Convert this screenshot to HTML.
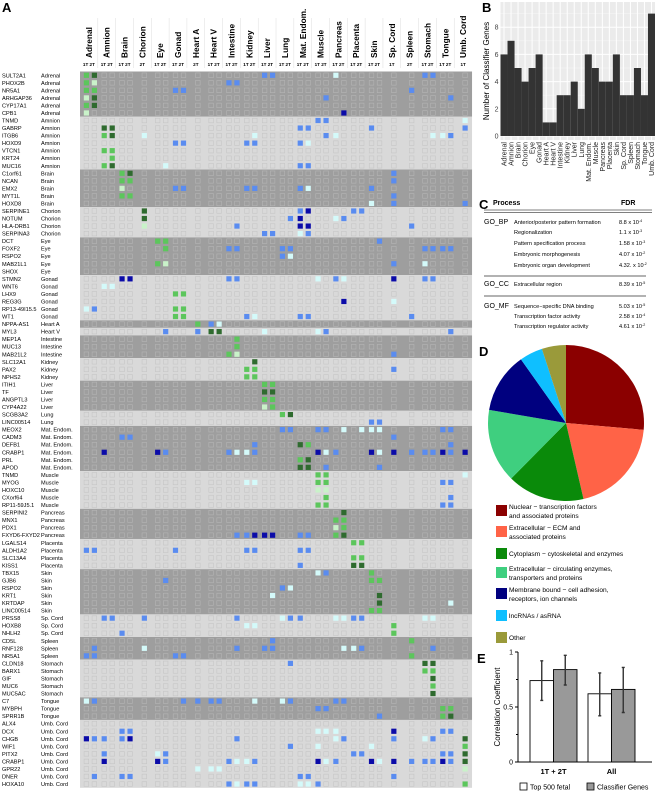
<!DOCTYPE html>
<html><head><meta charset="utf-8">
<style>
body{margin:0;background:#fff;width:655px;height:793px;overflow:hidden;font-family:"Liberation Sans",Arial,sans-serif}
svg{position:absolute;left:0;top:0}
</style></head>
<body>
<svg id="fig" width="655" height="793" viewBox="0 0 655 793" xmlns="http://www.w3.org/2000/svg" font-family="Liberation Sans, Arial, sans-serif">
<text x="2" y="12" font-size="13" font-weight="bold">A</text>
<text x="482" y="12" font-size="13" font-weight="bold">B</text>
<text x="479" y="209" font-size="13" font-weight="bold">C</text>
<text x="479" y="356" font-size="13" font-weight="bold">D</text>
<text x="477" y="663" font-size="13" font-weight="bold">E</text>
<g id="heat"></g>
<g id="barB"></g>
<g id="tableC"></g>
<g id="pieD"></g>
<g id="barE"></g>
</svg>
<script>
const NS="http://www.w3.org/2000/svg";
function mk(p,t,a,txt){const e=document.createElementNS(NS,t);for(const k in a)e.setAttribute(k,a[k]);if(txt!==undefined)e.textContent=txt;p.appendChild(e);return e;}

// ---------- Panel A data ----------
const tissues=["Adrenal","Amnion","Brain","Chorion","Eye","Gonad","Heart A","Heart V","Intestine","Kidney","Liver","Lung","Mat. Endom.","Muscle","Pancreas","Placenta","Skin","Sp. Cord","Spleen","Stomach","Tongue","Umb. Cord"];
const tissueCols=[["1T","2T"],["1T","2T"],["1T","2T"],["2T"],["1T","2T"],["1T","2T"],["2T"],["1T","2T"],["1T","2T"],["1T","2T"],["1T","2T"],["1T","2T"],["1T","2T"],["1T","2T"],["1T","2T"],["1T","2T"],["1T","2T"],["1T"],["2T"],["1T","2T"],["1T","2T"],["1T"]];
const genes=["SULT2A1","PHOX2B","NR5A1","ARHGAP36","CYP17A1","CPB1","TNMD","GABRP","ITGB6","HOXD9","VTCN1","KRT24","MUC16","C1orf61","NCAN","EMX2","MYT1L","HOXD8","SERPINE1","NOTUM","HLA-DRB1","SERPINA3","DCT","FOXF2","RSPO2","MAB21L1","SHOX","STMN2","WNT6","LHX9","REG3G","RP13-49I15.5","WT1","NPPA-AS1","MYL3","MEP1A","MUC13","MAB21L2","SLC12A1","PAX2","NPHS2","ITIH1","TF","ANGPTL3","CYP4A22","SCGB3A2","LINC00514","MEOX2","CADM3","DEFB1","CRABP1","PRL","APOD","TNMD","MYOG","HOXC10","CXorf64","RP11-59J5.1","SERPINI2","MNX1","PDX1","FXYD6-FXYD2","LGALS14","ALDH1A2","SLC13A4","KISS1","TBX15","GJB6","RSPO2","KRT1","KRTDAP","LINC00514","PRSS8","HOXB8","NHLH2","CD5L","RNF128","NR5A1","CLDN18","BARX1","GIF","MUC6","MUC5AC","C7","MYBPH","SPRR1B","ALX4","DCX","CHGB","WIF1","PITX2","CRABP1","GPR22","DNER","HOXA10"];
const geneTissue=[0,0,0,0,0,0,1,1,1,1,1,1,1,2,2,2,2,2,3,3,3,3,4,4,4,4,4,5,5,5,5,5,5,6,7,8,8,8,9,9,9,10,10,10,10,11,11,12,12,12,12,12,12,13,13,13,13,13,14,14,14,14,15,15,15,15,16,16,16,16,16,16,17,17,17,18,18,18,19,19,19,19,19,20,20,20,21,21,21,21,21,21,21,21,21];
// highlighted cells: "column-index + code" (G dark green, g green, l light green, B navy, b blue, c pale cyan)
const cells=[
"0g 1G 18b 19b 26c 34b 35b","0g 1l 14b 15b","0g 1g 9b 10b 33b","0l 1G 25b 37b","0g 1G","0l 27B",
"24b 25b 38c","2G 3G 22b 23b 30b 38b","2g 3G 6c 17c 25b 26c 35c 36c 37b","9b 10b 16b 17b 22b 23c","2g 3g","3g","2g 3G 8c 22b 23b",
"4g 5G 32b","4g 5g 32b","4l 9b 10b 16b 17b 22b 23c 30b","4g 5g 32b","30c 32b 38b",
"6G 22b 23B 28b 29b","6G 21b 22B 26c 27b","6l 15b 22B 23B 33b","18b 19b 22c 23b",
"7g 8g 31b","8g 14b 15b 20b 21b 34b 35b 36b 37b","20b 21c","7g 8l 32b 34c","",
"4B 5B 14b 15b 24c 26b 27c 32B 34b 35b","2c 3c","9g 10g","27B 32c","0c 1b 9g 10g","9g 10g 16b 17c 22b 23b 33b",
"11g 12b 13c","8b 11b 12G 13G 18c 24c 25b 37b",
"15g","15g","14g 15l 32b","17G","16g 17g 32b","16g 17g",
"18g 19g","18G 19G","18g 19g","18l 19g","20g 21G","30b 31b",
"20b 21b 24b 25b 27c 29c 30c 31c 36b 37b","4b 5b 32b","17b 22G 23g 37b","2B 7B 8b 14b 15c 16c 17b 24B 25c 26b 30B 31c 32B 33b 34b 35b 36B 37b 38B","22g 23G","22G 23G 25b 31b",
"24g 25g 38c","16c 17c 24g 25g 36b 37b","24l 25l","25g 37b","24g 25g 36b 37b",
"27G","26g 27g","26l 27g","15b 16b 17B 18B 19B 22b 23b 26g 27G",
"28g 29g","0b 1b 9b 16b 17b 22b 23b","28g 29g","22b 28G 29G",
"24c 25b 30g","8b 30g 31g","20b 21c","19c 31G","31G 37c","30g 31g",
"2b 3b 6b 15b 20c 21b 22b 26c 27c 28b 29b 34c 35c","16c 17c 32g","4b 32g",
"19b 33g","1b 6c 15b 18b 19b 27c 28c 29b 35b","0b 1b 9b 10b 33g",
"21b 34G 35G","34g 35g","35G","35g","35G",
"0c 1b 10b 11b 12b 13b 17c 20c 21b 26b 27b","24b 25b 36g 37g","31b 36g 37G",
"","4b 5b 24c 25c 26c 32B 36b 37b","0B 1b 2b 4b 5B 15b 26c 27b 32b 34c 35b 38G","21b 24c 30c 38g","2b 7c 8b 28b 29b 36b 37b 38G",
"2B 7B 8b 14b 15c 16c 17b 24B 25c 26b 30B 31c 32B 33b 34b 35b 36B 37b 38G","11c 12c 13c 38l","1b 4b 5b 22b 23b 32b","14b 15c 16b 17b 22c 23c 24b 38g"];
const colorMap={G:"#2f6b2f",g:"#5cc65c",l:"#c9f2c9",B:"#0b0ba8",b:"#5a8cf0",c:"#d4fafa"};

(function(){
 const g=document.getElementById('heat');
 const x0=80,gw=17.82,y0=71.5,rh=7.54,cs=5.2;
 // column positions
 const colX=[];const colDark=[];
 tissues.forEach((t,i)=>{const gx=x0+i*gw;
   if(tissueCols[i].length===2){colX.push(gx+3.8,gx+11.8);} else colX.push(gx+8.3);
 });
 // bands
 let start=0;
 for(let r=0;r<=genes.length;r++){
   if(r===genes.length||geneTissue[r]!==geneTissue[start]){
     const b=mk(g,'rect',{x:x0,y:y0+start*rh,width:tissues.length*gw,height:(r-start)*rh,fill:geneTissue[start]%2===0?'#9e9e9e':'#d9d9d9'});
     
     
     start=r;
   }
 }
 // header
 tissues.forEach((t,i)=>{const cx=x0+i*gw+gw/2;
   const tx=mk(g,'text',{x:0,y:0,transform:`translate(${cx+3},58) rotate(-90)`,'font-size':8.3,'font-weight':'bold'},t);
   
   
   const sub=mk(g,'text',{x:cx,y:66,'font-size':4.6,'font-weight':'bold','text-anchor':'middle'},tissueCols[i].join(' '));
   
   
   if(i>0){const ln=mk(g,'line',{x1:x0+i*gw,x2:x0+i*gw,y1:18,y2:68,stroke:'#ddd','stroke-width':0.5});
     
     }
 });
 genes.forEach((gn,r)=>{const cy=y0+r*rh+rh/2;
   const a=mk(g,'text',{x:2,y:cy+2,'font-size':5.6},gn);
   
   
   const b=mk(g,'text',{x:41,y:cy+2,'font-size':5.6},tissues[geneTissue[r]]);
   
   
   const dark=geneTissue[r]%2===0;
   const hl={};cells[r].split(' ').filter(s=>s).forEach(s=>{hl[parseInt(s)]=s.slice(-1);});
   colX.forEach((cx,c)=>{
     let el;
     if(hl[c]) el=mk(g,'rect',{x:cx,y:cy-cs/2,width:cs,height:cs,fill:colorMap[hl[c]]});
     else el=mk(g,'rect',{x:cx+0.3,y:cy-cs/2+0.3,width:cs-0.6,height:cs-0.6,fill:'none',stroke:dark?'#b5b5b5':'#c6c6c6','stroke-width':0.6});
     
     
   });
 });
})();

// ---------- Panel B ----------
const bCats=tissues;
const bValues=[6,7,5,4,5,6,1,1,3,3,4,2,6,5,4,4,6,3,3,5,3,9];
const bTicks=[0,2,4,6,8];
(function(){
 const g=document.getElementById('barB');
 const L=500.5,R=655,T=2,B=140,y0=136,k=13.6;
 const ys=v=>y0-v*k;
 const bw=(R-L)/bCats.length;
 mk(g,'rect',{x:L,y:T,width:R-L,height:B-T,fill:'#ebebeb'});
 for(let v=1;v<=9;v+=2) mk(g,'line',{x1:L,x2:R,y1:ys(v),y2:ys(v),stroke:'#f7f7f7','stroke-width':0.5});
 bTicks.forEach(v=>{mk(g,'line',{x1:L,x2:R,y1:ys(v),y2:ys(v),stroke:'#fff','stroke-width':1});
   const t=mk(g,'text',{x:L-2,y:ys(v)+2.5,'font-size':7,'text-anchor':'end',fill:'#444'},v);
   
   });
 bCats.forEach((c,i)=>{const cx=L+bw*(i+0.5);
   mk(g,'line',{x1:cx,x2:cx,y1:T,y2:B,stroke:'#fff','stroke-width':1});
   const r=mk(g,'rect',{x:L+bw*i,y:ys(bValues[i]),width:bw,height:bValues[i]*k,fill:'#333'});
   
   
   const t=mk(g,'text',{x:0,y:0,transform:`translate(${cx+2.5},${B+2}) rotate(-90)`,'font-size':7,'text-anchor':'end',fill:'#222'},c);
   
   
 });
 const at=mk(g,'text',{x:0,y:0,transform:`translate(489,${(T+B)/2}) rotate(-90)`,'font-size':8,'text-anchor':'middle'},'Number of Classifier Genes');
 
 
})();

// ---------- Panel C ----------
(function(){
 const g=document.getElementById('tableC');
 const t=(x,y,s,fs,w,name)=>{const e=mk(g,'text',{x,y,'font-size':fs,'font-weight':w||'normal'},s);return e;};
 t(493,205,'Process',7,'bold','c-header-process');
 t(621,205,'FDR',7,'bold','c-header-fdr');
 mk(g,'line',{x1:484,x2:652,y1:210,y2:210,stroke:'#555','stroke-width':0.8});
 mk(g,'line',{x1:484,x2:652,y1:212.5,y2:212.5,stroke:'#555','stroke-width':0.8});
 const rows=[["GO_BP","Anterior/posterior pattern formation","8.8 x 10","-4",224],["","Regionalization","1.1 x 10","-3",234],["","Pattern specification process","1.58 x 10","-3",245],["","Embryonic morphogenesis","4.07 x 10","-2",256],["","Embryonic organ development","4.32. x 10","-2",267],["GO_CC","Extracellular region","8.39 x 10","-5",286],["GO_MF","Sequence\u2212specific DNA binding","5.03 x 10","-5",308],["","Transcription factor activity","2.58 x 10","-4",318],["","Transcription regulator activity","4.61 x 10","-2",328]];
 rows.forEach(r=>{if(r[0])t(484,r[4],r[0],7,'normal','c-category');
   t(514,r[4],r[1],5.6,'normal','c-process');
   const f=t(619,r[4],r[2],5.6,'normal','c-fdr');
   const s=mk(f,'tspan',{'font-size':3.6,dy:-2.2},r[3]);});
 mk(g,'line',{x1:484,x2:646,y1:276,y2:276,stroke:'#333','stroke-width':0.8});
 mk(g,'line',{x1:484,x2:646,y1:296,y2:296,stroke:'#333','stroke-width':0.8});
})();

// ---------- Panel D ----------
const pieLabels=["Nuclear \u2212 transcription factors|and associated proteins","Extracellular \u2212 ECM and|associated proteins","Cytoplasm \u2212 cytoskeletal and enzymes","Extracellular \u2212 circulating enzymes,|transporters and proteins","Membrane bound \u2212 cell adhesion,|receptors, ion channels","lncRNAs / asRNA","Other"];
const pieValues=[26.4,20,16,15.3,12.5,4.8,5];
const pieColors=["#8b0000","#ff6347","#0a8a0a","#3fcf7f","#00007f","#0fbfff","#9a9a3a"];
(function(){
 const g=document.getElementById('pieD');
 const cx=566,cy=423,r=78;
 const tot=pieValues.reduce((a,b)=>a+b,0);
 let a0=0;
 pieValues.forEach((v,i)=>{const a1=a0+v/tot*2*Math.PI;
   const p=(a)=>[cx+r*Math.sin(a),cy-r*Math.cos(a)];
   const [x0,y0]=p(a0),[x1,y1]=p(a1);
   const s=mk(g,'path',{d:`M${cx},${cy}L${x0},${y0}A${r},${r} 0 ${a1-a0>Math.PI?1:0} 1 ${x1},${y1}Z`,fill:pieColors[i]});
   
   
   a0=a1;});
 const sy=[505,526,548,567,588,610,632];
 pieLabels.forEach((l,i)=>{
   const sw=mk(g,'rect',{x:496,y:sy[i],width:11,height:11,fill:pieColors[i]});
   
   
   const lines=l.split('|');
   lines.forEach((ln,j)=>{const ty=lines.length===1?sy[i]+8:sy[i]+4+j*9;
     const t=mk(g,'text',{x:509,y:ty,'font-size':6.6},ln);
     
     });
 });
})();

// ---------- Panel E ----------
const eGroups=["1T + 2T","All"];
const eTop500=[0.74,0.62];
const eTop500Lo=[0.56,0.42];
const eTop500Hi=[0.92,0.81];
const eClassifier=[0.84,0.66];
const eClassLo=[0.70,0.45];
const eClassHi=[0.97,0.86];
const eTicks=[0,0.5,1];
(function(){
 const g=document.getElementById('barE');
 const y0=762,k=110,ax=518;
 const ys=v=>y0-v*k;
 mk(g,'line',{x1:ax,x2:ax,y1:ys(1),y2:y0,stroke:'#000','stroke-width':1});
 mk(g,'line',{x1:ax,x2:652,y1:y0,y2:y0,stroke:'#000','stroke-width':1});
 eTicks.forEach(v=>{mk(g,'line',{x1:ax-3,x2:ax,y1:ys(v),y2:ys(v),stroke:'#000'});
   const t=mk(g,'text',{x:ax-5,y:ys(v)+2.5,'font-size':7,'text-anchor':'end'},v);
   
   });
 [0.25,0.75].forEach(v=>mk(g,'line',{x1:ax-2,x2:ax,y1:ys(v),y2:ys(v),stroke:'#000'}));
 const at=mk(g,'text',{x:0,y:0,transform:`translate(500,${ys(0.5)}) rotate(-90)`,'font-size':8,'text-anchor':'middle'},'Correlation Coefficient');
 
 
 const gx=[530,588],bw=23.5;
 eGroups.forEach((gn,i)=>{
   const series=[[eTop500,eTop500Lo,eTop500Hi,'#fff'],[eClassifier,eClassLo,eClassHi,'#999']];
   series.forEach((s,j)=>{const x=gx[i]+j*bw;
     const r=mk(g,'rect',{x,y:ys(s[0][i]),width:bw,height:s[0][i]*k,fill:s[3],stroke:'#000','stroke-width':0.9});
     
     
     const cx=x+bw/2;
     const e=mk(g,'path',{d:`M${cx},${ys(s[1][i])}V${ys(s[2][i])}M${cx-1.5},${ys(s[1][i])}H${cx+1.5}M${cx-1.5},${ys(s[2][i])}H${cx+1.5}`,stroke:'#333','stroke-width':1.4,fill:'none'});
     
     
   });
   const t=mk(g,'text',{x:gx[i]+bw,y:774,'font-size':7.5,'font-weight':'bold','text-anchor':'middle'},gn);
   
   
 });
 const l1=mk(g,'rect',{x:520,y:783,width:7,height:7,fill:'#fff',stroke:'#000','stroke-width':0.8});
 
 
 const t1=mk(g,'text',{x:530,y:789.5,'font-size':7},'Top 500 fetal');
 
 
 const l2=mk(g,'rect',{x:587,y:783,width:7,height:7,fill:'#999',stroke:'#000','stroke-width':0.8});
 
 
 const t2=mk(g,'text',{x:597,y:789.5,'font-size':7},'Classifier Genes');
 
 
})();
</script>
</body></html>
